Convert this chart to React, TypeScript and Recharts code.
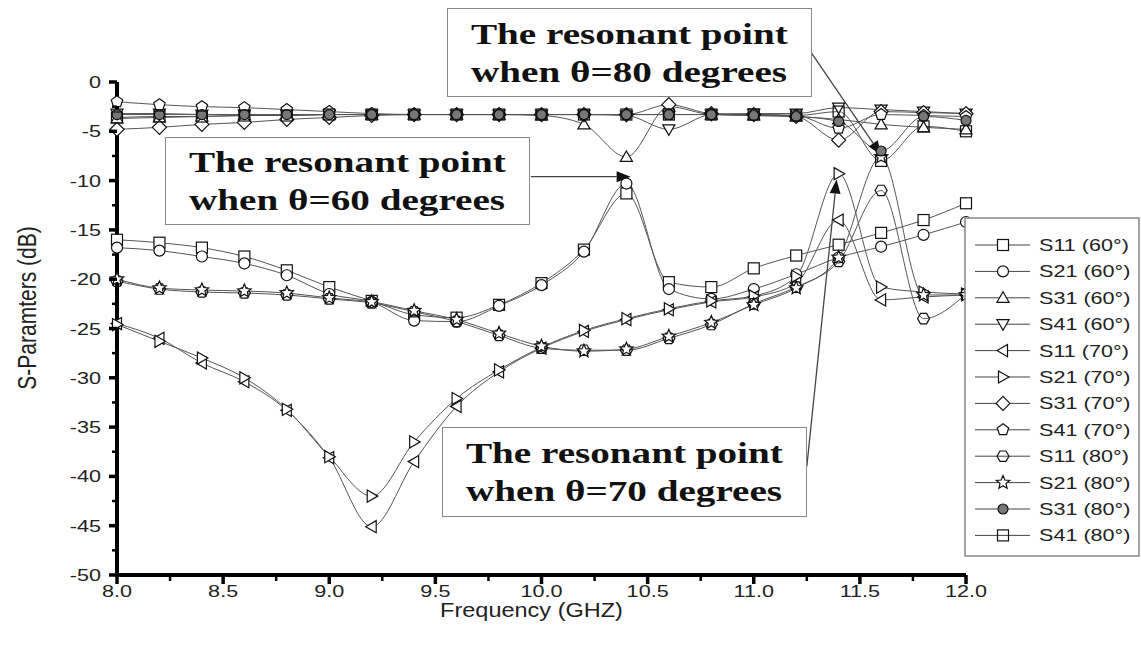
import React from "react"
import { LineChart, Line, XAxis, YAxis, ReferenceLine } from "recharts"

// frequency points (GHz)
const freq = [8.0, 8.2, 8.4, 8.6, 8.8, 9.0, 9.2, 9.4, 9.6, 9.8, 10.0, 10.2, 10.4, 10.6, 10.8, 11.0, 11.2, 11.4, 11.6, 11.8, 12.0]

// S-parameters in dB
const s11_60 = [-16.0, -16.3, -16.8, -17.7, -19.1, -20.8, -22.2, -23.6, -23.9, -22.6, -20.4, -17.0, -11.3, -20.3, -20.8, -18.9, -17.6, -16.5, -15.3, -14.0, -12.3]
const s21_60 = [-16.8, -17.1, -17.7, -18.4, -19.6, -21.5, -22.3, -24.2, -24.3, -22.7, -20.6, -17.2, -10.3, -21.0, -22.0, -21.0, -19.5, -17.8, -16.7, -15.5, -14.2]
const s31_60 = [-3.7, -3.6, -3.5, -3.4, -3.4, -3.3, -3.3, -3.3, -3.3, -3.3, -3.4, -4.3, -7.6, -2.5, -3.3, -3.4, -3.5, -3.8, -4.3, -4.6, -4.8]
const s41_60 = [-3.2, -3.2, -3.3, -3.3, -3.3, -3.3, -3.3, -3.3, -3.3, -3.3, -3.3, -3.3, -3.4, -4.8, -3.3, -3.2, -3.2, -2.6, -2.8, -3.0, -3.2]
const s11_70 = [-24.5, -26.0, -28.5, -30.4, -33.3, -38.1, -45.1, -38.5, -32.9, -29.4, -27.0, -25.3, -24.1, -23.1, -22.3, -21.8, -20.4, -14.0, -22.1, -21.8, -21.6]
const s21_70 = [-24.6, -26.3, -28.0, -30.0, -33.2, -38.0, -42.0, -36.5, -32.1, -29.2, -26.9, -25.2, -24.0, -23.0, -22.2, -21.7, -19.7, -9.3, -20.8, -21.3, -21.5]
const s31_70 = [-4.8, -4.6, -4.3, -4.1, -3.8, -3.6, -3.4, -3.3, -3.3, -3.3, -3.3, -3.3, -3.3, -2.3, -3.2, -3.3, -3.5, -5.9, -3.0, -3.1, -3.2]
const s41_70 = [-2.0, -2.3, -2.5, -2.6, -2.8, -3.0, -3.2, -3.3, -3.3, -3.3, -3.3, -3.3, -3.3, -3.3, -3.3, -3.3, -3.4, -4.7, -3.3, -3.4, -3.5]
const s11_80 = [-20.2, -21.0, -21.3, -21.4, -21.6, -22.0, -22.4, -23.3, -24.3, -25.7, -27.0, -27.2, -27.2, -26.0, -24.6, -22.5, -20.8, -18.2, -11.0, -24.0, -21.5]
const s21_80 = [-20.0, -20.9, -21.1, -21.2, -21.4, -21.9, -22.3, -23.2, -24.1, -25.5, -26.8, -27.3, -27.1, -25.8, -24.4, -22.6, -20.9, -17.8, -7.6, -21.6, -21.6]
const s31_80 = [-3.3, -3.3, -3.3, -3.3, -3.3, -3.3, -3.3, -3.3, -3.3, -3.3, -3.3, -3.3, -3.3, -3.3, -3.3, -3.4, -3.5, -4.0, -7.0, -3.5, -3.9]
const s41_80 = [-3.6, -3.5, -3.5, -3.4, -3.4, -3.3, -3.3, -3.3, -3.3, -3.3, -3.3, -3.3, -3.3, -3.3, -3.3, -3.3, -3.4, -3.0, -8.0, -4.5, -5.0]

// axis ticks
const xMajorTicks = [8.0, 8.5, 9.0, 9.5, 10.0, 10.5, 11.0, 11.5, 12.0]
const xMinorTicks = [8.25, 8.75, 9.25, 9.75, 10.25, 10.75, 11.25, 11.75]
const yMajorTicks = [0, -5, -10, -15, -20, -25, -30, -35, -40, -45, -50]
const yMinorTicks = [-2.5, -7.5, -12.5, -17.5, -22.5, -27.5, -32.5, -37.5, -42.5, -47.5]

// resonance annotations: arrow start (box edge) -> arrow tip, in data units
const notes = [
  { label: "when θ=60 degrees", from: { x: 9.95, y: -9.6 }, to: { x: 10.42, y: -9.6 } },
  { label: "when θ=70 degrees", from: { x: 11.25, y: -39.0 }, to: { x: 11.39, y: -9.9 } },
  { label: "when θ=80 degrees", from: { x: 11.27, y: 3.0 }, to: { x: 11.6, y: -7.4 } },
]

const series = [
  { key: "s11_60", name: "S11 (60°)", values: s11_60, shape: "square" },
  { key: "s21_60", name: "S21 (60°)", values: s21_60, shape: "circle" },
  { key: "s31_60", name: "S31 (60°)", values: s31_60, shape: "up" },
  { key: "s41_60", name: "S41 (60°)", values: s41_60, shape: "down" },
  { key: "s11_70", name: "S11 (70°)", values: s11_70, shape: "left" },
  { key: "s21_70", name: "S21 (70°)", values: s21_70, shape: "right" },
  { key: "s31_70", name: "S31 (70°)", values: s31_70, shape: "diamond" },
  { key: "s41_70", name: "S41 (70°)", values: s41_70, shape: "pentagon" },
  { key: "s11_80", name: "S11 (80°)", values: s11_80, shape: "hexagon" },
  { key: "s21_80", name: "S21 (80°)", values: s21_80, shape: "star" },
  { key: "s31_80", name: "S31 (80°)", values: s31_80, shape: "dot" },
  { key: "s41_80", name: "S41 (80°)", values: s41_80, shape: "squareLine" },
]

const data = freq.map((f, i) => {
  const row: Record<string, number> = { f }
  series.forEach((s) => (row[s.key] = s.values[i]))
  return row
})

const SX = 1.35 // the figure is stretched sideways
const SANS = "'Liberation Sans', Arial, sans-serif"
const SERIF = "'Liberation Serif', 'Times New Roman', serif"

function poly(cx: number, cy: number, n: number, r: number, rot: number) {
  const pts: string[] = []
  for (let i = 0; i < n; i++) {
    const a = rot + (i * 2 * Math.PI) / n
    pts.push(`${cx + r * Math.cos(a)},${cy + r * Math.sin(a)}`)
  }
  return pts.join(" ")
}

function Marker({ shape, cx, cy }: { shape: string; cx: number; cy: number }) {
  const s = 5.5
  const st = { stroke: "#111", strokeWidth: 1.2, fill: "#fff" }
  switch (shape) {
    case "square":
      return <rect x={cx - s} y={cy - s} width={2 * s} height={2 * s} {...st} />
    case "squareLine":
      return <rect x={cx - s} y={cy - s} width={2 * s} height={2 * s} {...st} fill="none" />
    case "circle":
      return <circle cx={cx} cy={cy} r={s} {...st} />
    case "dot":
      return <circle cx={cx} cy={cy} r={s - 0.5} {...st} fill="#777" />
    case "up":
      return <polygon points={poly(cx, cy + 1, 3, s + 1.5, -Math.PI / 2)} {...st} />
    case "down":
      return <polygon points={poly(cx, cy - 1, 3, s + 1.5, Math.PI / 2)} {...st} />
    case "left":
      return <polygon points={poly(cx + 1, cy, 3, s + 1.5, Math.PI)} {...st} />
    case "right":
      return <polygon points={poly(cx - 1, cy, 3, s + 1.5, 0)} {...st} />
    case "diamond":
      return <polygon points={poly(cx, cy, 4, s + 1.5, 0)} {...st} />
    case "pentagon":
      return <polygon points={poly(cx, cy, 5, s + 0.5, -Math.PI / 2)} {...st} />
    case "hexagon":
      return <polygon points={poly(cx, cy, 6, s + 0.5, 0)} {...st} fill="none" />
    case "star": {
      const pts: string[] = []
      for (let i = 0; i < 10; i++) {
        const r = i % 2 === 0 ? s + 1.5 : (s + 1.5) * 0.45
        const a = -Math.PI / 2 + (i * Math.PI) / 5
        pts.push(`${cx + r * Math.cos(a)},${cy + r * Math.sin(a)}`)
      }
      return <polygon points={pts.join(" ")} {...st} />
    }
    default:
      return null
  }
}

function makeDot(shape: string, key: string) {
  return (p: any) => {
    if (p.cx == null || p.cy == null || p.value == null) return <g key={`${key}-${p.index}`} />
    return (
      <g key={`${key}-${p.index}`}>
        <Marker shape={shape} cx={p.cx} cy={p.cy} />
      </g>
    )
  }
}

function StretchText({ x, y, anchor, size, children, sx }: any) {
  return (
    <g transform={`translate(${x},${y}) scale(${sx || SX},1)`}>
      <text x={0} y={0} textAnchor={anchor} fontSize={size} fontFamily={SANS} fill="#222">
        {children}
      </text>
    </g>
  )
}

function YTick({ x, y, payload }: any) {
  const v = payload.value as number
  const major = Math.abs(v % 5) < 1e-6
  return (
    <g>
      <line x1={x} y1={y} x2={x - (major ? 8 : 5)} y2={y} stroke="#000" strokeWidth={major ? 3.5 : 2.5} />
      {major && (
        <StretchText x={x - 16} y={y + 6} anchor="end" size={16}>
          {v}
        </StretchText>
      )}
    </g>
  )
}

function XTick({ x, y, payload }: any) {
  const v = payload.value as number
  const major = Math.abs(v * 2 - Math.round(v * 2)) < 1e-6
  return (
    <g>
      <line x1={x} y1={y} x2={x} y2={y + (major ? 9 : 6)} stroke="#000" strokeWidth={major ? 3.5 : 2.5} />
      {major && (
        <StretchText x={x} y={y + 22} anchor="middle" size={16}>
          {v.toFixed(1)}
        </StretchText>
      )}
    </g>
  )
}

function XTitle({ viewBox }: any) {
  const cx = viewBox.x + viewBox.width / 2
  return (
    <StretchText x={cx - 10} y={viewBox.y + 42} anchor="middle" size={21} sx={1.12}>
      Frequency (GHZ)
    </StretchText>
  )
}

function YTitle() {
  return (
    <g transform={`translate(36,308) scale(1.2,1) rotate(-90)`}>
      <text x={0} y={0} textAnchor="middle" fontSize={21} fontFamily={SANS} fill="#222">
        S-Paramters (dB)
      </text>
    </g>
  )
}

function Arrow(props: any) {
  const { x1, y1, x2, y2 } = props
  const ang = Math.atan2(y2 - y1, x2 - x1)
  const L = 14
  const W = 5.5
  const bx = x2 - L * Math.cos(ang)
  const by = y2 - L * Math.sin(ang)
  const px = -Math.sin(ang) * W
  const py = Math.cos(ang) * W
  return (
    <g>
      <line x1={x1} y1={y1} x2={bx} y2={by} stroke="#444" strokeWidth={1.3} />
      <polygon points={`${x2},${y2} ${bx + px},${by + py} ${bx - px},${by - py}`} fill="#111" />
    </g>
  )
}

const boxes = [
  { left: 165, top: 137, width: 365, height: 88, note: notes[0] },
  { left: 442, top: 427, width: 365, height: 90, note: notes[1] },
  { left: 447, top: 8, width: 365, height: 89, note: notes[2] },
]

function NoteBox({ left, top, width, height, label }: any) {
  return (
    <div
      style={{
        position: "absolute",
        left,
        top,
        width,
        height,
        border: "1.5px solid #888",
        background: "#fff",
        boxSizing: "border-box",
        display: "flex",
        flexDirection: "column",
        alignItems: "center",
        justifyContent: "center",
        fontFamily: SERIF,
        fontWeight: "bold",
        fontSize: 29,
        lineHeight: "38px",
        color: "#111",
      }}
    >
      <span style={{ display: "inline-block", transform: `scaleX(${SX})`, whiteSpace: "nowrap" }}>The resonant point</span>
      <span style={{ display: "inline-block", transform: `scaleX(${SX})`, whiteSpace: "nowrap" }}>{label}</span>
    </div>
  )
}

function LegendBox() {
  const rowH = 26.4
  return (
    <svg width={176} height={340} style={{ position: "absolute", left: 964, top: 217 }}>
      <rect x={1} y={1} width={174} height={338} fill="#fff" stroke="#888" strokeWidth={1.5} />
      {series.map((s, i) => {
        const cy = 28 + i * rowH
        return (
          <g key={s.key}>
            <line x1={11} y1={cy} x2={66} y2={cy} stroke="#444" strokeWidth={1} />
            <Marker shape={s.shape} cx={39} cy={cy} />
            <StretchText x={75} y={cy + 6} anchor="start" size={16}>
              {s.name}
            </StretchText>
          </g>
        )
      })}
    </svg>
  )
}

export default function App() {
  return (
    <div style={{ position: "absolute", left: 0, top: 0, width: 1141, height: 659, background: "#fff" }}>
      <LineChart width={1141} height={659} data={data} margin={{ top: 82, right: 175, left: 0, bottom: 0 }}>
        <XAxis
          dataKey="f"
          type="number"
          domain={[8, 12]}
          ticks={[...xMajorTicks, ...xMinorTicks].sort((a, b) => a - b)}
          interval={0}
          height={84}
          tickSize={0}
          tickMargin={0}
          tick={<XTick />}
          axisLine={{ stroke: "#000", strokeWidth: 4 }}
          tickLine={false}
          label={<XTitle />}
        />
        <YAxis
          type="number"
          domain={[-50, 0]}
          ticks={[...yMajorTicks, ...yMinorTicks].sort((a, b) => b - a)}
          interval={0}
          width={117}
          tickSize={0}
          tickMargin={0}
          tick={<YTick />}
          axisLine={{ stroke: "#000", strokeWidth: 4 }}
          tickLine={false}
          label={<YTitle />}
        />
        {series.map((s) => (
          <Line
            key={s.key}
            dataKey={s.key}
            name={s.name}
            type="monotone"
            stroke="#555"
            strokeWidth={1}
            dot={makeDot(s.shape, s.key)}
            activeDot={false}
            isAnimationActive={false}
          />
        ))}
        {notes.map((n) => (
          <ReferenceLine key={n.label} segment={[n.from, n.to]} ifOverflow="visible" shape={<Arrow />} />
        ))}
      </LineChart>
      {boxes.map((b) => (
        <NoteBox key={b.note.label} left={b.left} top={b.top} width={b.width} height={b.height} label={b.note.label} />
      ))}
      <LegendBox />
    </div>
  )
}
